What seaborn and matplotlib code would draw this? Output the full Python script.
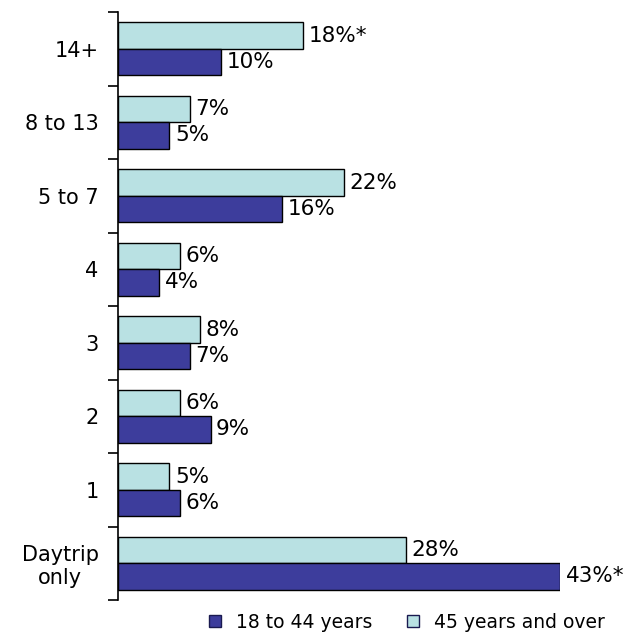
import numpy as np
import pandas as pd
import matplotlib.pyplot as plt
import seaborn as sns
from matplotlib.lines import Line2D

#Chart data, categories listed top to bottom
categories = ['14+', '8 to 13', '5 to 7', '4', '3', '2', '1', 'Daytrip\nonly']
young = [10, 5, 16, 4, 7, 9, 6, 43]
old = [18, 7, 22, 6, 8, 6, 5, 28]
young_labels = ['10%', '5%', '16%', '4%', '7%', '9%', '6%', '43%*']
old_labels = ['18%*', '7%', '22%', '6%', '8%', '6%', '5%', '28%']
young_name = '18 to 44 years'
old_name = '45 years and over'

dark = '#3d3d9c'
light = '#b9e1e3'

#Long format table for seaborn
df = pd.DataFrame({
    'cat': categories * 2,
    'val': old + young,
    'grp': [old_name] * len(categories) + [young_name] * len(categories),
})

sns.set_style('white')
plt.rcParams['font.family'] = ['DejaVu Sans']
plt.rcParams['text.color'] = 'black'
plt.rcParams['ytick.color'] = 'black'

fig = plt.figure(figsize=(6.41, 6.36), dpi=100)
ax = fig.add_axes([118 / 641, 1 - 600 / 636, (560 - 118) / 641, (600 - 12) / 636])

sns.barplot(data=df, x='val', y='cat', hue='grp', order=categories,
            hue_order=[old_name, young_name],
            palette={old_name: light, young_name: dark}, saturation=1,
            orient='h', width=0.72, gap=0, edgecolor='black', linewidth=1,
            legend=False, ax=ax)

#Value labels at the end of each bar
for container, labels in zip(ax.containers, [old_labels, young_labels]):
    ax.bar_label(container, labels=labels, padding=4, fontsize=15.5,
                 color='black', clip_on=False)

ax.set_xlim(0, 43)
ax.set_ylim(len(categories) - 0.5, -0.5)
ax.set_xlabel('')
ax.set_ylabel('')
ax.set_xticks([])

#Category labels at centers, tick marks at the boundaries
ax.set_yticks(np.arange(len(categories)))
ax.set_yticklabels(categories, fontsize=15, color='black')
for lab in ax.get_yticklabels():
    lab.set_multialignment('center')
ax.tick_params(axis='y', which='major', length=0, pad=14)
ax.set_yticks(np.arange(len(categories) + 1) - 0.5, minor=True)
ax.tick_params(axis='y', which='minor', length=7, width=1.2, color='black', left=True)

for s in ['top', 'right', 'bottom']:
    ax.spines[s].set_visible(False)
ax.spines['left'].set_color('black')
ax.spines['left'].set_linewidth(1.2)

handles = [
    Line2D([], [], marker='s', ls='', markersize=9, markerfacecolor=dark,
           markeredgecolor='#1a1a50', label=young_name),
    Line2D([], [], marker='s', ls='', markersize=9, markerfacecolor=light,
           markeredgecolor='#1a1a50', label=old_name),
]
fig.legend(handles=handles, loc='center', bbox_to_anchor=(0.625, 0.022), ncol=2,
           frameon=False, fontsize=13.5, handletextpad=0.1, columnspacing=1.2,
           labelcolor='black')

fig.savefig('out.png', dpi=100)
